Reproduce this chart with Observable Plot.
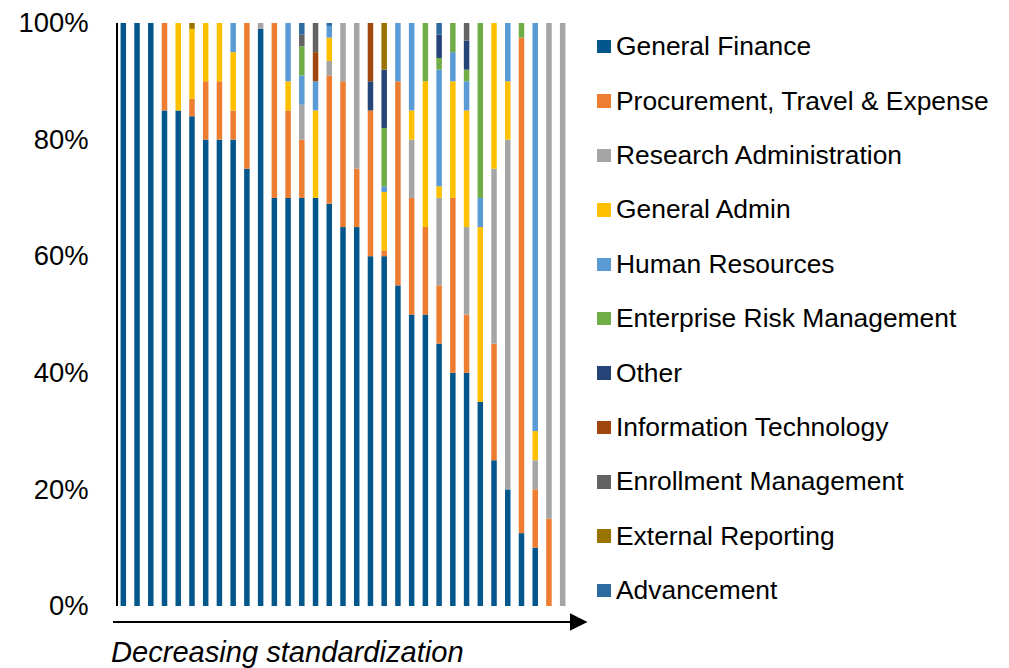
<!DOCTYPE html>
<html><head><meta charset="utf-8">
<script src="https://cdn.jsdelivr.net/npm/d3@7"></script>
<script src="https://cdn.jsdelivr.net/npm/@observablehq/plot@0.6"></script>
<style>
body{margin:0;background:#fff;font-family:"Liberation Sans",Arial,sans-serif;}
#wrap{position:relative;width:1009px;height:668px;overflow:hidden;}
#chart{position:absolute;left:0;top:0;}
#legend{position:absolute;left:597px;top:19.5px;}
.row{height:54.4px;display:flex;align-items:center;font-size:26.4px;color:#000;white-space:nowrap;}
.sw{width:13.5px;height:13.5px;margin-right:5.5px;flex:none;}
</style></head><body><div id="wrap"><div id="chart"></div><div id="legend"></div></div>
<script>
// Series (stack order bottom -> top) and their colours
const categories = ["General Finance","Procurement, Travel & Expense","Research Administration","General Admin","Human Resources","Enterprise Risk Management","Other","Information Technology","Enrollment Management","External Reporting","Advancement"];
const colors = ["#02568b","#ed7d31","#a5a5a5","#ffc000","#5b9bd5","#70ad47","#264478","#9e480e","#636363","#997300","#2c6aa0"];
const yTicks = [0,20,40,60,80,100];
const xLabel = "Decreasing standardization";
// 33 institutions (bars), ordered by decreasing standardization
const bars = ["1","2","3","4","5","6","7","8","9","10","11","12","13","14","15","16","17","18","19","20","21","22","23","24","25","26","27","28","29","30","31","32","33"];
// Share (%) per bar for each series
const generalFinance  = [100,100,100,85,85,84,80,80,80,75,99,70,70,70,70,69,65,65,60,60,55,50,50,45,40,40,35,25,20,12.5,10,0,0];
const procurement     = [0,0,0,15,0,3,10,10,5,25,0,30,15,10,0,22,25,10,25,1,35,20,15,10,30,10,0,20,0,85,10,15,0];
const researchAdmin   = [0,0,0,0,0,0,0,0,0,0,1,0,0,6,0,2.5,10,25,0,0,0,10,0,15,0,15,0,30,60,0,5,85,100];
const generalAdmin    = [0,0,0,0,15,12,10,10,10,0,0,0,5,0,15,4,0,0,0,10,0,5,25,2,20,20,30,25,10,0,5,0,0];
const humanResources  = [0,0,0,0,0,0,0,0,5,0,0,0,10,5,5,2,0,0,0,1,10,15,0,20,5,5,5,0,10,0,70,0,0];
const riskManagement  = [0,0,0,0,0,0,0,0,0,0,0,0,0,5,0,0,0,0,0,10,0,0,10,2,5,2,30,0,0,2.5,0,0,0];
const other           = [0,0,0,0,0,0,0,0,0,0,0,0,0,0,0,0,0,0,5,10,0,0,0,4,0,5,0,0,0,0,0,0,0];
const infoTech        = [0,0,0,0,0,0,0,0,0,0,0,0,0,0,5,0,0,0,10,0,0,0,0,0,0,0,0,0,0,0,0,0,0];
const enrollment      = [0,0,0,0,0,0,0,0,0,0,0,0,0,2,5,0,0,0,0,0,0,0,0,0,0,3,0,0,0,0,0,0,0];
const externalReport  = [0,0,0,0,0,1,0,0,0,0,0,0,0,0,0,0,0,0,0,8,0,0,0,0,0,0,0,0,0,0,0,0,0];
const advancement     = [0,0,0,0,0,0,0,0,0,0,0,0,0,2,0,0.5,0,0,0,0,0,0,0,2,0,0,0,0,0,0,0,0,0];

const seriesValues = [generalFinance,procurement,researchAdmin,generalAdmin,humanResources,riskManagement,other,infoTech,enrollment,externalReport,advancement];
const data = [];
seriesValues.forEach((vals, s) => vals.forEach((v, i) => { if (v > 0) data.push({bar: bars[i], series: categories[s], value: v}); }));

const chart = Plot.plot({
  width: 590, height: 668,
  marginLeft: 117, marginRight: 21, marginTop: 23, marginBottom: 62,
  style: {fontFamily: "'Liberation Sans', Arial, sans-serif", fontSize: "27.4px", color: "#000", background: "transparent"},
  x: {domain: bars, paddingInner: 0.6, paddingOuter: 0.26, round: false, axis: null},
  y: {domain: [0, 100], ticks: yTicks, tickFormat: d => d + "%", tickSize: 0, tickPadding: 29, label: null},
  color: {domain: categories, range: colors},
  marks: [
    Plot.barY(data, {x: "bar", y: "value", fill: "series", order: categories})
  ]
});
document.getElementById("chart").appendChild(chart);

// annotations derived from the chart's scales
const svg = d3.select(chart);
const yr = chart.scale("y").range; // [bottom, top]
const xr = chart.scale("x").range; // [left, right]
svg.append("line").attr("x1", xr[0]).attr("x2", xr[0]).attr("y1", yr[1]).attr("y2", yr[0])
  .attr("stroke", "#000").attr("stroke-width", 2);
const ay = yr[0] + 16;
svg.append("line").attr("x1", xr[0] - 4).attr("x2", xr[1] + 3).attr("y1", ay).attr("y2", ay)
  .attr("stroke", "#000").attr("stroke-width", 2);
svg.append("path").attr("d", `M${xr[1] + 1},${ay - 8.7}L${xr[1] + 18.5},${ay}L${xr[1] + 1},${ay + 8.7}Z`).attr("fill", "#000");
svg.append("text").attr("x", xr[0] - 6).attr("y", yr[0] + 56).attr("text-anchor", "start")
  .attr("font-style", "italic").attr("font-size", 29.1).attr("fill", "#000").text(xLabel);

// legend
const legend = d3.select("#legend");
categories.forEach((c, i) => {
  const row = legend.append("div").attr("class", "row");
  row.append("div").attr("class", "sw").style("background", colors[i]);
  row.append("span").text(c);
});
</script></body></html>
